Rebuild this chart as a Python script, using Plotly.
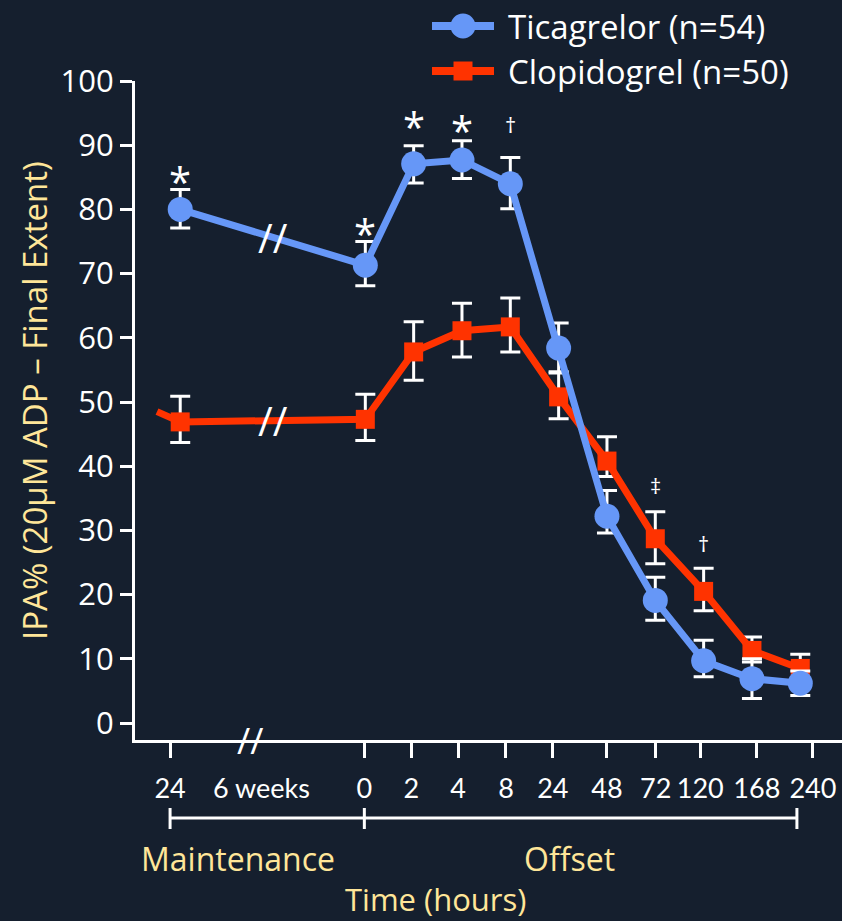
import plotly.graph_objects as go

# ---------------- data ----------------
categories = ["24", "0", "2", "4", "8", "24", "48", "72", "120", "168", "240"]
tic_mean = [80.0, 71.3, 87.1, 87.7, 84.0, 58.4, 32.2, 19.1, 9.7, 6.9, 6.2]
tic_err_plus = [3.1, 3.7, 2.8, 3.0, 4.1, 3.9, 4.0, 3.6, 3.2, 3.1, 1.9]
tic_err_minus = [2.9, 3.2, 3.0, 2.9, 3.9, 3.9, 2.6, 3.1, 2.5, 3.1, 1.9]
clop_mean = [46.9, 47.3, 57.8, 61.1, 61.7, 50.8, 40.8, 28.7, 20.5, 11.3, 8.5]
clop_err_plus = [4.0, 3.9, 4.7, 4.3, 4.5, 3.9, 3.8, 4.2, 3.6, 2.1, 2.2]
clop_err_minus = [3.2, 3.3, 4.4, 4.1, 3.9, 3.4, 2.4, 3.9, 3.0, 1.8, 2.0]
clop_lead_in = 48.5          # value of the red line entering from the left
tic_sig = ["*", "*", "*", "*", "\u2020", "", "", "", "", "", ""]
clop_sig = ["", "", "", "", "", "", "", "\u2021", "\u2020", "", ""]
y_ticks = [0, 10, 20, 30, 40, 50, 60, 70, 80, 90, 100]
series_names = ["Ticagrelor (n=54)", "Clopidogrel (n=50)"]

# ---------------- layout geometry ----------------
W, H = 842, 921
ML, MR, MT, MB = 135, 0, 81, 181
PW, PH = W - ML - MR, H - MT - MB
X0, DX = 172.0, 48.33                      # pixel of slot 0, pixels per slot
point_pos = [0.17, 4, 5, 6, 7, 8, 9, 10, 11, 12, 13]
tick_pos = [-0.04, 3.98, 4.95, 5.92, 6.91, 7.88, 9.0, 10.01, 10.93, 12.1, 13.26]
lead_pos = -0.31
weeks_pos = 1.86
axis_break_pos = 1.62
bracket_end = 12.93
tic_sig_shift = [18, 18, 29, 20, 33, 0, 0, 0, 0, 0, 0]
clop_sig_shift = [0, 0, 0, 0, 0, 0, 0, 27, 25, 0, 0]

def px_x(px):
    return (px - ML) / PW

def px_y(py):
    return (H - MB - py) / PH

x_range = [(ML - X0) / DX, (W - MR - X0) / DX]
y_range = [-(740 - 723) / 6.42, 100]

BG = "#151f2e"
BLUE = "#6697f7"
RED = "#ff3300"
GOLD = "#ffe699"
FONT = "Open Sans"
TICKFONT = "Lato"

fig = go.Figure()

# red lead-in line
fig.add_trace(go.Scatter(
    x=[lead_pos, point_pos[0]], y=[clop_lead_in, clop_mean[0]],
    mode="lines", line=dict(color=RED, width=7), showlegend=False, hoverinfo="skip"))

fig.add_trace(go.Scatter(
    x=point_pos, y=clop_mean, mode="lines+markers", name=series_names[1],
    line=dict(color=RED, width=7),
    marker=dict(symbol="square", size=19, color=RED),
    error_y=dict(type="data", symmetric=False, array=clop_err_plus,
                 arrayminus=clop_err_minus, color="white", thickness=3, width=10),
    showlegend=False))

fig.add_trace(go.Scatter(
    x=point_pos, y=tic_mean, mode="lines+markers", name=series_names[0],
    line=dict(color=BLUE, width=7),
    marker=dict(symbol="circle", size=25, color=BLUE),
    error_y=dict(type="data", symmetric=False, array=tic_err_plus,
                 arrayminus=tic_err_minus, color="white", thickness=3, width=10),
    showlegend=False))

annotations = []
shapes = []

def ann(**kw):
    kw.setdefault("showarrow", False)
    kw.setdefault("xanchor", "center")
    kw.setdefault("yanchor", "middle")
    annotations.append(kw)

# significance markers
for i, s in enumerate(tic_sig):
    if s:
        big = s == "*"
        ann(x=point_pos[i], y=tic_mean[i] + tic_err_plus[i], xref="x", yref="y",
            text=s, yshift=tic_sig_shift[i] - (10 if big else 0),
            font=dict(family=FONT, size=40 if big else 22, color="white"))
for i, s in enumerate(clop_sig):
    if s:
        ann(x=point_pos[i], y=clop_mean[i] + clop_err_plus[i], xref="x", yref="y",
            text=s, yshift=clop_sig_shift[i],
            font=dict(family=FONT, size=22, color="white"))

# break marks on the lines (midway between first two points)
mid = (point_pos[0] + point_pos[1]) / 2
for series in (tic_mean, clop_mean):
    ann(x=mid, y=(series[0] + series[1]) / 2, xref="x", yref="y", text="//",
        font=dict(family=FONT, size=40, color="white"))
# break on the x axis
ann(x=axis_break_pos, y=0, xref="x", yref="paper", text="//",
    font=dict(family=FONT, size=36, color="white"))

# "6 weeks" label
ann(x=weeks_pos, y=px_y(787), xref="x", yref="paper", text="6 weeks",
    font=dict(family=TICKFONT, size=27, color="white"))

# phase bracket
by = px_y(818)
shapes.append(dict(type="line", xref="x", yref="paper", x0=tick_pos[0], x1=bracket_end,
                   y0=by, y1=by, line=dict(color="white", width=3)))
for xp in (tick_pos[0], tick_pos[1], bracket_end):
    shapes.append(dict(type="line", xref="x", yref="paper", x0=xp, x1=xp,
                       y0=px_y(808), y1=px_y(829), line=dict(color="white", width=3)))
ann(x=px_x(238), y=px_y(858), xref="paper", yref="paper", text="Maintenance",
    font=dict(family=FONT, size=32, color=GOLD))
ann(x=px_x(569), y=px_y(858), xref="paper", yref="paper", text="Offset",
    font=dict(family=FONT, size=32, color=GOLD))
ann(x=px_x(435), y=px_y(899), xref="paper", yref="paper", text="Time (hours)",
    font=dict(family=FONT, size=31, color=GOLD))
# y title
ann(x=px_x(34), y=px_y(401), xref="paper", yref="paper",
    text="IPA% (20\u00b5M ADP \u2013 Final Extent)", textangle=-90,
    font=dict(family=FONT, size=33, color=GOLD))

# legend (drawn)
for row, (name, color, sym) in enumerate(zip(series_names, [BLUE, RED], ["circle", "square"])):
    cy = 26 + 45 * row
    shapes.append(dict(type="line", xref="paper", yref="paper",
                       x0=px_x(432), x1=px_x(494), y0=px_y(cy), y1=px_y(cy),
                       line=dict(color=color, width=8)))
    r = 12.5 if sym == "circle" else 9.5
    shapes.append(dict(type="circle" if sym == "circle" else "rect", xref="paper", yref="paper",
                       x0=px_x(463 - r), x1=px_x(463 + r), y0=px_y(cy + r), y1=px_y(cy - r),
                       fillcolor=color, line=dict(width=0)))
    ann(x=px_x(506), y=px_y(cy), xref="paper", yref="paper", text=name, xanchor="left",
        font=dict(family=FONT, size=33, color="white"))

fig.update_layout(
    width=W, height=H,
    margin=dict(l=ML, r=MR, t=MT, b=MB, pad=0),
    paper_bgcolor=BG, plot_bgcolor=BG,
    showlegend=False,
    annotations=annotations, shapes=shapes,
    xaxis=dict(range=x_range, tickmode="array", tickvals=tick_pos, ticktext=categories,
               showgrid=False, zeroline=False, showline=True, linecolor="white", linewidth=3,
               ticks="outside", ticklen=15, tickwidth=3, tickcolor="white", tickangle=0,
               automargin=False,
               tickfont=dict(family=TICKFONT, size=27, color="white"), ticklabelstandoff=8),
    yaxis=dict(range=y_range, tickmode="array", tickvals=y_ticks,
               showgrid=False, zeroline=False, showline=True, linecolor="white", linewidth=3,
               ticks="outside", ticklen=12, tickwidth=3, tickcolor="white", automargin=False,
               tickfont=dict(family=FONT, size=31, color="white")),
)
for tr in fig.data:
    tr.cliponaxis = False

fig.write_html("out.html")
